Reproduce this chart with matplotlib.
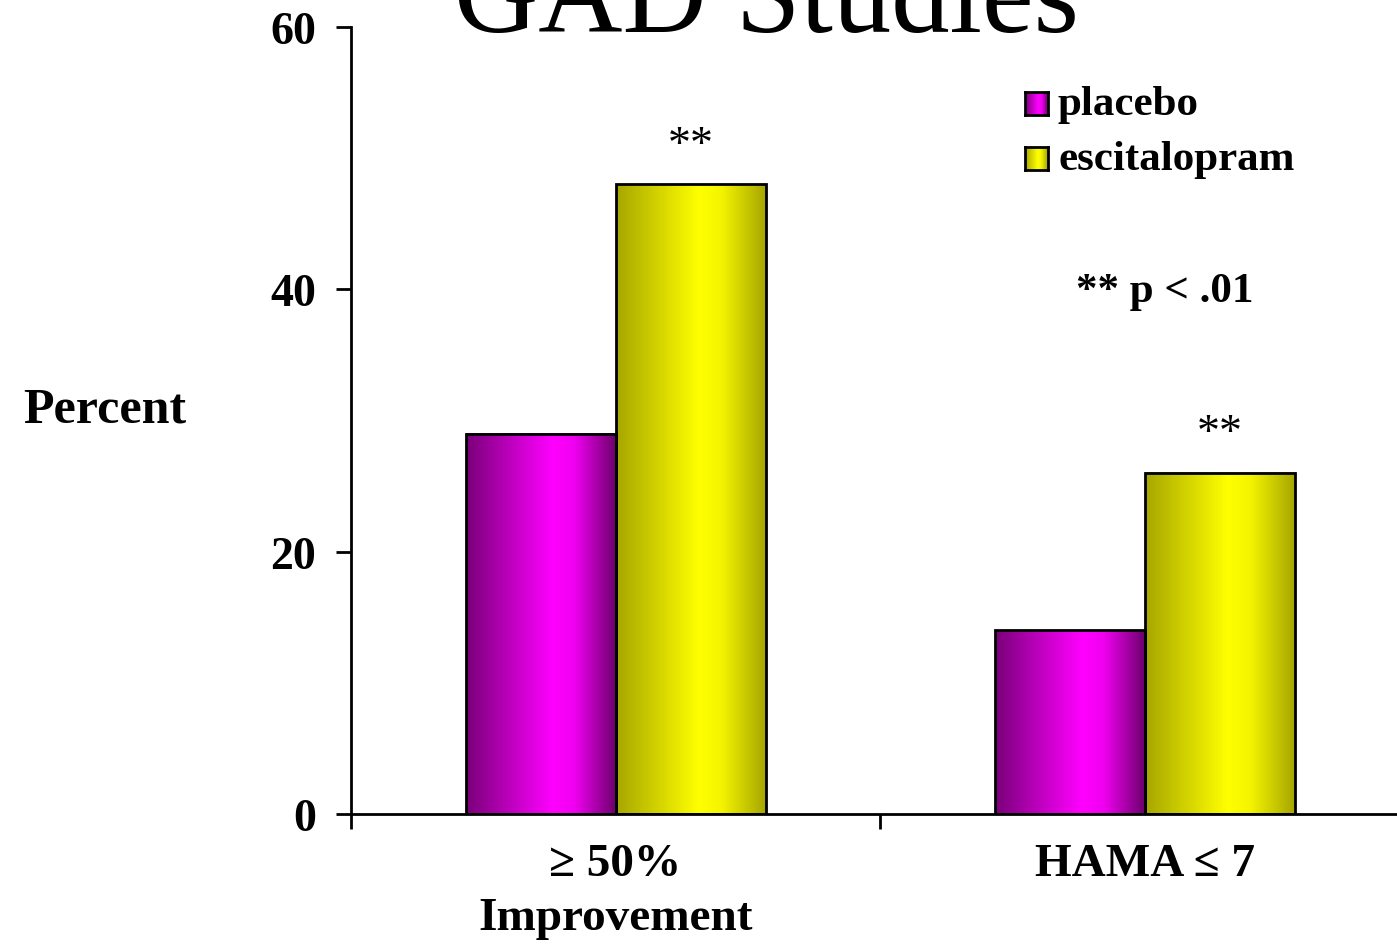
import numpy as np
import matplotlib
matplotlib.use('Agg')
import matplotlib.pyplot as plt
from matplotlib.colors import LinearSegmentedColormap

# Response rates (%) from the pooled GAD studies
categories = ['\u2265 50%\nImprovement', 'HAMA \u2264 7']
placebo = [29, 14]
escitalopram = [48, 26]
series_names = ['placebo', 'escitalopram']
sig_marks = ['**', '**']
yticks = [0, 20, 40, 60]

plt.rcParams['font.family'] = ['Liberation Serif', 'DejaVu Serif']

# cylinder-style shading, dark edges with a bright band right of centre
magenta_cm = LinearSegmentedColormap.from_list(
    'mag', [(0, '#7a007a'), (0.58, '#ff00ff'), (0.72, '#f000f0'), (1, '#6a006a')])
yellow_cm = LinearSegmentedColormap.from_list(
    'yel', [(0, '#a6a600'), (0.55, '#ffff00'), (0.7, '#f4f400'), (1, '#a4a400')])
cmaps = [magenta_cm, yellow_cm]

fig = plt.figure(figsize=(13.97, 9.45), dpi=100)
ax = fig.add_axes([0.2513, 0.1376, 0.7573, 0.8328])

centers = np.arange(len(categories)) + 0.5
w = 0.2836
grad = np.linspace(0, 1, 256).reshape(1, -1)

for i, (vals, cm) in enumerate(zip([placebo, escitalopram], cmaps)):
    offset = -w / 2 if i == 0 else w / 2
    bars = ax.bar(centers + offset, vals, width=w, facecolor='none',
                  edgecolor='black', linewidth=2, zorder=3)
    for b in bars:
        ax.imshow(grad, extent=[b.get_x(), b.get_x() + b.get_width(), 0, b.get_height()],
                  aspect='auto', cmap=cm, zorder=2, interpolation='bilinear')
    if i == 1:
        for b, s in zip(bars, sig_marks):
            ax.annotate(s, (b.get_x() + b.get_width() / 2, b.get_height()),
                        xytext=(0, 20), textcoords='offset points',
                        ha='center', va='baseline', fontsize=33)

ax.set_xlim(0, 2)
ax.set_ylim(0, 60)
ax.set_aspect('auto')
ax.set_yticks(yticks)
ax.set_yticklabels([str(t) for t in yticks], fontsize=33, fontweight='bold')
ax.set_xticks([0, 1, 2])
ax.set_xticklabels([])
ax.tick_params(axis='both', direction='out', length=11, width=2, pad=14)
for side in ['top', 'right']:
    ax.spines[side].set_visible(False)
for side in ['left', 'bottom']:
    ax.spines[side].set_linewidth(2)

# category labels under each group
for c, lab in zip(centers, categories):
    ax.text(c, -2.2, lab, ha='center', va='top', fontsize=34, fontweight='bold',
            linespacing=1.38)

ax.set_ylabel('Percent', fontsize=36, fontweight='bold', rotation=0,
              labelpad=0)
ax.yaxis.set_label_coords(-0.233, 0.485)

# legend with shaded swatches
for k, (name, cm) in enumerate(zip(series_names, cmaps)):
    y0 = 1 - (116 + 55 * k) / 945
    sw = fig.add_axes([1025 / 1397, y0, 23 / 1397, 23 / 945])
    sw.imshow(grad, aspect='auto', cmap=cm)
    sw.set_xticks([])
    sw.set_yticks([])
    for sp in sw.spines.values():
        sp.set_linewidth(2)
    fig.text(1058 / 1397, y0 + 11 / 945, name, fontsize=31, fontweight='bold',
             va='center', ha='left')

fig.text(1165 / 1397, 1 - 302 / 945, '** p < .01', fontsize=31, fontweight='bold',
         ha='center', va='baseline')

fig.text(766 / 1397, 1 - 32 / 945, 'GAD Studies', fontsize=84, ha='center',
         va='baseline')

fig.savefig('out.png', dpi=100)
